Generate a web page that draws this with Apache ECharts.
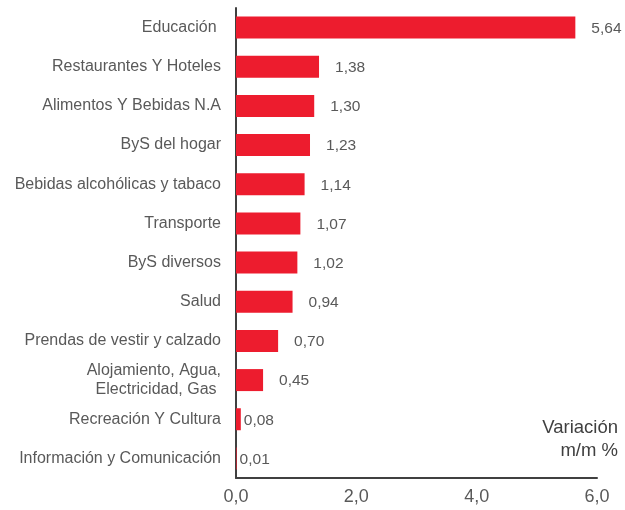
<!DOCTYPE html>
<html lang="es">
<head>
    <meta charset="UTF-8">
    <title>Variación m/m %</title>
    <script src="https://cdn.jsdelivr.net/npm/echarts@6/dist/echarts.min.js"></script>
    <style>
        html, body { margin: 0; padding: 0; background: #fff; }
        #main { width: 625px; height: 510px; }
    </style>
</head>
<body>
<div id="main"></div>
<script>
// categorias de arriba hacia abajo
var categorias = [
    'Educación ',
    'Restaurantes Y Hoteles',
    'Alimentos Y Bebidas N.A',
    'ByS del hogar',
    'Bebidas alcohólicas y tabaco',
    'Transporte',
    'ByS diversos',
    'Salud',
    'Prendas de vestir y calzado',
    'Alojamiento, Agua,\nElectricidad, Gas ',
    'Recreación Y Cultura',
    'Información y Comunicación'
];
var valores = [5.64, 1.38, 1.30, 1.23, 1.14, 1.07, 1.02, 0.94, 0.70, 0.45, 0.08, 0.01];
var ejeX = [0, 2, 4, 6];
var titulo = ['Variación', 'm/m %'];

var chart = echarts.init(document.getElementById('main'));

var datos = valores.map(function (v) {
    var item = { value: v };
    if (v < 0.1) {
        item.label = { distance: 3 };  // etiquetas pegadas a la barra
    }
    return item;
});

chart.setOption({
    animation: false,
    grid: { left: 236, top: 8, right: 28, bottom: 32, containLabel: false },
    xAxis: {
        type: 'value',
        min: ejeX[0],
        max: ejeX[ejeX.length - 1],
        interval: 2,
        axisLine: { show: true, lineStyle: { color: '#404040', width: 2 } },
        axisTick: { show: false },
        splitLine: { show: false },
        axisLabel: {
            color: '#595959',
            fontFamily: 'Liberation Sans',
            fontSize: 18,
            margin: 10,
            formatter: function (v) { return v.toFixed(1).replace('.', ','); }
        }
    },
    yAxis: {
        type: 'category',
        inverse: true,
        data: categorias,
        axisLine: { show: true, lineStyle: { color: '#404040', width: 2 } },
        axisTick: { show: false },
        axisLabel: {
            color: '#595959',
            fontFamily: 'Liberation Sans',
            fontSize: 16,
            margin: 15,
            lineHeight: 19
        }
    },
    series: [{
        type: 'bar',
        data: datos,
        barWidth: 22,
        itemStyle: { color: '#ED1C2E' },
        label: {
            show: true,
            position: 'right',
            distance: 16,
            color: '#595959',
            fontFamily: 'Liberation Sans',
            fontSize: 15.5,
            offset: [0, 1],
            formatter: function (p) { return p.value.toFixed(2).replace('.', ','); }
        }
    }],
    // texto de unidades, cada linea alineada a la derecha
    graphic: titulo.map(function (t, i) {
        return {
            type: 'text',
            right: 7,
            top: 418 + i * 23,
            style: {
                text: t,
                fill: '#404040',
                font: '18.5px "Liberation Sans"'
            }
        };
    })
});
</script>
</body>
</html>
